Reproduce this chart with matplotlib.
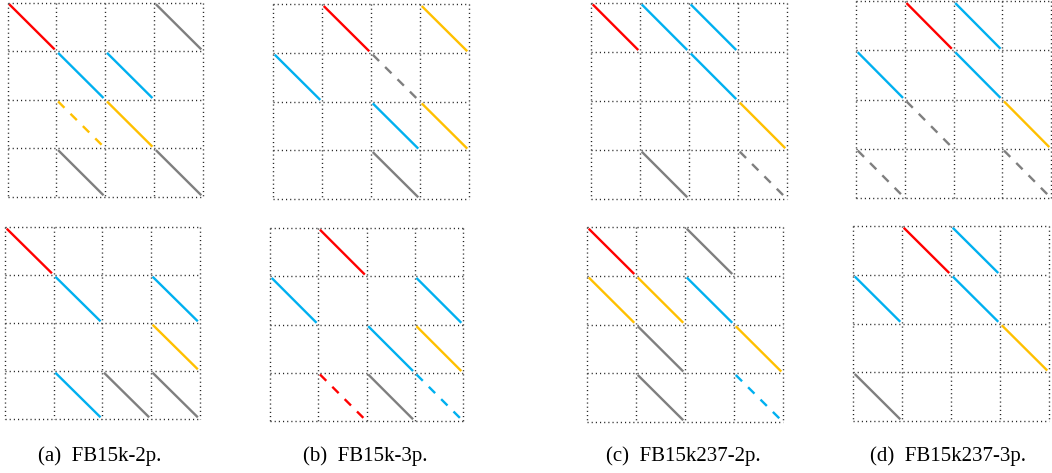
import matplotlib.pyplot as plt

# figure size in pixels
W, H = 1052, 473

# active cells of each 4x4 grid: (row, col, kind, dashed)
# kind: r = red, b = blue, y = yellow, g = gray
fb15k_2p_top = [(0, 0, 'r', 0), (0, 3, 'g', 0), (1, 1, 'b', 0), (1, 2, 'b', 0),
                (2, 1, 'y', 1), (2, 2, 'y', 0), (3, 1, 'g', 0), (3, 3, 'g', 0)]
fb15k_2p_bot = [(0, 0, 'r', 0), (1, 1, 'b', 0), (1, 3, 'b', 0), (2, 3, 'y', 0),
                (3, 1, 'b', 0), (3, 2, 'g', 0), (3, 3, 'g', 0)]

fb15k_3p_top = [(0, 1, 'r', 0), (0, 3, 'y', 0), (1, 0, 'b', 0), (1, 2, 'g', 1),
                (2, 2, 'b', 0), (2, 3, 'y', 0), (3, 2, 'g', 0)]
fb15k_3p_bot = [(0, 1, 'r', 0), (1, 0, 'b', 0), (1, 3, 'b', 0), (2, 2, 'b', 0),
                (2, 3, 'y', 0), (3, 1, 'r', 1), (3, 2, 'g', 0), (3, 3, 'b', 1)]

fb237_2p_top = [(0, 0, 'r', 0), (0, 1, 'b', 0), (0, 2, 'b', 0), (1, 2, 'b', 0),
                (2, 3, 'y', 0), (3, 1, 'g', 0), (3, 3, 'g', 1)]
fb237_2p_bot = [(0, 0, 'r', 0), (0, 2, 'g', 0), (1, 0, 'y', 0), (1, 1, 'y', 0),
                (1, 2, 'b', 0), (2, 1, 'g', 0), (2, 3, 'y', 0), (3, 1, 'g', 0),
                (3, 3, 'b', 1)]

fb237_3p_top = [(0, 1, 'r', 0), (0, 2, 'b', 0), (1, 0, 'b', 0), (1, 2, 'b', 0),
                (2, 1, 'g', 1), (2, 3, 'y', 0), (3, 0, 'g', 1), (3, 3, 'g', 1)]
fb237_3p_bot = [(0, 1, 'r', 0), (0, 2, 'b', 0), (1, 0, 'b', 0), (1, 2, 'b', 0),
                (2, 3, 'y', 0), (3, 0, 'g', 0)]

captions = ["(a)  FB15k-2p.", "(b)  FB15k-3p.", "(c)  FB15k237-2p.", "(d)  FB15k237-3p."]

colores = {'r': '#ff0000', 'b': '#00b0f0', 'y': '#ffc000', 'g': '#7f7f7f'}

fig = plt.figure(figsize=(W / 100, H / 100), dpi=100)


def dibujar(caja, celdas):
    # caja en pixeles: izquierda, arriba, derecha, abajo
    l, t, r, b = caja
    ax = fig.add_axes([l / W, 1 - b / H, (r - l) / W, (b - t) / H])
    ax.set_xlim(0, 4)
    ax.set_ylim(4, 0)
    ax.axis('off')
    for k in range(5):
        ax.plot([k, k], [0, 4], color='#222222', lw=1.0, ls=(0, (0.8, 2.2)), clip_on=False)
        ax.plot([0, 4], [k, k], color='#222222', lw=1.0, ls=(0, (0.8, 2.2)), clip_on=False)
    pad = 0.035
    for fila, col, tipo, rayada in celdas:
        estilo = (0, (3.8, 3.6)) if rayada else '-'
        ax.plot([col + pad, col + 1 - pad], [fila + pad, fila + 1 - pad],
                color=colores[tipo], lw=1.7, ls=estilo, solid_capstyle='butt')


dibujar((7.5, 2.5, 203, 197), fb15k_2p_top)
dibujar((5, 227, 199.5, 419), fb15k_2p_bot)
dibujar((273, 4.3, 469, 199), fb15k_3p_top)
dibujar((270, 228, 463, 421), fb15k_3p_bot)
dibujar((591, 2.7, 787, 199), fb237_2p_top)
dibujar((587, 227, 783, 422), fb237_2p_bot)
dibujar((856, 1.3, 1051, 198), fb237_3p_top)
dibujar((853, 226, 1049, 421), fb237_3p_bot)

centros = [100, 365, 683, 948]
for cx, txt in zip(centros, captions):
    fig.text(cx / W, 1 - 461 / H, txt, ha='center', va='baseline',
             fontsize=15, family='Liberation Serif')

fig.savefig('out.png', dpi=100)
